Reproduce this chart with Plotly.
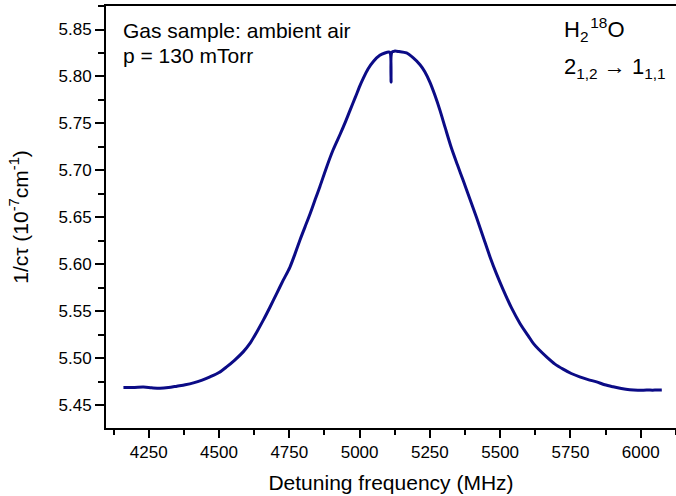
import plotly.graph_objects as go

# Detuning frequency (MHz) and 1/(c*tau) (1e-7 cm^-1)
freq_mhz = [4160, 4200, 4231, 4260, 4290, 4320, 4350, 4380, 4409, 4440, 4468, 4500,
            4527, 4555, 4586, 4610, 4634, 4658, 4682, 4705, 4728, 4752, 4770, 4788,
            4806, 4824, 4842, 4859, 4882, 4906, 4930, 4950, 4966, 4985, 5001, 5013,
            5030, 5049, 5072, 5090, 5104, 5109, 5112, 5115, 5125, 5140, 5167, 5190,
            5215, 5232, 5250, 5268, 5286, 5305, 5327, 5348, 5369, 5392, 5416, 5440,
            5464, 5487, 5511, 5540, 5571, 5600, 5618, 5636, 5665, 5695, 5724, 5753,
            5783, 5813, 5843, 5872, 5902, 5931, 5961, 5990, 6021, 6050, 6075]
inv_ctau = [5.469, 5.4692, 5.4695, 5.4688, 5.4683, 5.469, 5.4705, 5.472, 5.474, 5.477, 5.4804, 5.485,
            5.491, 5.498, 5.507, 5.516, 5.528, 5.541, 5.555, 5.569, 5.583, 5.597, 5.611, 5.626,
            5.640, 5.654, 5.669, 5.683, 5.703, 5.722, 5.738, 5.752, 5.764, 5.778, 5.790, 5.798,
            5.808, 5.816, 5.8225, 5.825, 5.826, 5.825, 5.794, 5.826, 5.827, 5.8265, 5.825, 5.820,
            5.8125, 5.805, 5.794, 5.780, 5.764, 5.745, 5.7236, 5.706, 5.689, 5.670, 5.650, 5.629,
            5.608, 5.590, 5.573, 5.554, 5.537, 5.524, 5.516, 5.510, 5.5017, 5.494, 5.4886, 5.484,
            5.4804, 5.4775, 5.4751, 5.472, 5.4698, 5.468, 5.4667, 5.4662, 5.4663, 5.4663, 5.4665]

FONT = "Liberation Sans, Arial, sans-serif"

fig = go.Figure()
fig.add_trace(go.Scatter(x=freq_mhz, y=inv_ctau, mode="lines",
                         line=dict(color="#0b0b86", width=3, shape="spline", smoothing=0.8),
                         showlegend=False))

fig.update_layout(
    width=676, height=496,
    margin=dict(l=106, r=0, t=6, b=68),
    paper_bgcolor="white", plot_bgcolor="white",
    font=dict(family=FONT, color="black"),
    xaxis=dict(
        range=[4098, 6125.5], tickmode="linear", tick0=4000, dtick=250,
        ticks="outside", ticklen=8, tickwidth=1.5, tickcolor="black",
        showline=True, linecolor="black", linewidth=1.8, mirror=True,
        showgrid=False, zeroline=False,
        tickfont=dict(size=17, family=FONT),
        minor=dict(tickmode="linear", tick0=4000, dtick=125, ticks="outside",
                   ticklen=5, tickwidth=1.5, tickcolor="black"),
        title=dict(text="Detuning frequency (MHz)", font=dict(size=21, family=FONT), standoff=14),
    ),
    yaxis=dict(
        range=[5.426, 5.875], tickmode="linear", tick0=5.45, dtick=0.05,
        tickformat=".2f",
        ticks="outside", ticklen=9, tickwidth=1.5, tickcolor="black",
        showline=True, linecolor="black", linewidth=1.8, mirror=False,
        showgrid=False, zeroline=False,
        tickfont=dict(size=17, family=FONT),
        minor=dict(tickmode="linear", tick0=5.45, dtick=0.025, ticks="outside",
                   ticklen=6, tickwidth=1.5, tickcolor="black"),
        title=dict(text="1/cτ (10<sup>-7</sup>cm<sup>-1</sup>)", font=dict(size=21, family=FONT), standoff=24),
    ),
    annotations=[
        dict(text="Gas sample: ambient air", xref="paper", yref="paper",
             x=(121 - 106) / 570, y=1 - (17 - 6) / 422, xanchor="left", yanchor="top",
             showarrow=False, font=dict(size=21, family=FONT, color="black")),
        dict(text="p = 130 mTorr", xref="paper", yref="paper",
             x=(121 - 106) / 570, y=1 - (42 - 6) / 422, xanchor="left", yanchor="top",
             showarrow=False, font=dict(size=21, family=FONT, color="black")),
        dict(text="H<sub>2</sub>\u200a<sup>18</sup>O", xref="paper", yref="paper",
             x=(562 - 106) / 570, y=1 - (12 - 6) / 422, xanchor="left", yanchor="top",
             showarrow=False, font=dict(size=22, family=FONT, color="black")),
        dict(text="2<sub>1,2</sub> → 1<sub>1,1</sub>", xref="paper", yref="paper",
             x=(562 - 106) / 570, y=1 - (52 - 6) / 422, xanchor="left", yanchor="top",
             showarrow=False, font=dict(size=22, family=FONT, color="black")),
    ],
)

fig.write_html("out.html")
